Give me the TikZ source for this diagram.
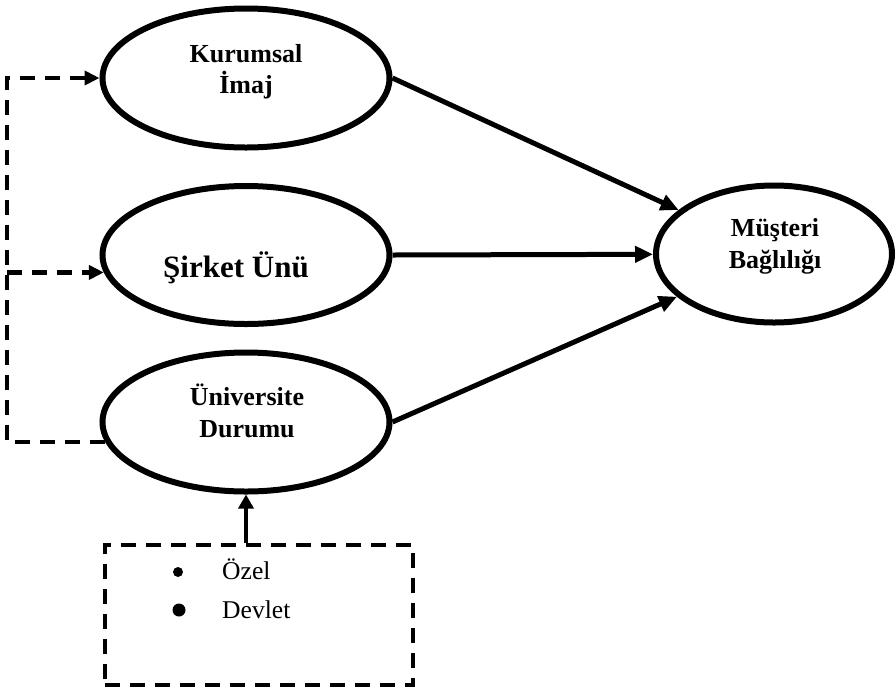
\documentclass[tikz,border=0pt]{standalone}
\usepackage{fontspec}
\setmainfont{Liberation Serif}
\usetikzlibrary{arrows.meta,shapes.geometric}
\begin{document}
\begin{tikzpicture}[x=1pt,y=-1pt,
  construct/.style={ellipse,draw,line width=6pt,inner sep=0pt,
    minimum width=287pt,minimum height=139pt},
  lbl/.style={font=\fontsize{26}{31.5}\selectfont\bfseries,align=center},
  item/.style={font=\fontsize{25.6}{30}\selectfont,anchor=base west,inner sep=0pt},
  dot/.style={circle,fill,inner sep=0pt},
  link/.style={line width=5pt,-{Triangle[length=18pt,width=16pt]}},
  dashpath/.style={line width=4.5pt,dash pattern=on 15pt off 10pt},
  dasharrow/.style={dashpath,-{Triangle[length=15pt,width=14pt]}},
]
\useasboundingbox (0,0) rectangle (896,689);

% constructs
\node[construct] (kur) at (246,78) {};
\node[construct,minimum height=138pt] (sir) at (246,255) {};
\node[construct] (uni) at (246,422) {};
\node[construct,minimum width=236pt,minimum height=137pt] (mus) at (774,254) {};

% construct labels
\node[lbl] (kurT) at (246,71.5) {Kurumsal\\İmaj};
\node[font=\fontsize{31}{36}\selectfont\bfseries,anchor=base] (sirT) at (236,277) {Şirket Ünü};
\node[lbl] (uniT) at (247,411) {Üniversite\\Durumu};
\node[lbl] (musT) at (775,246.5) {Müşteri\\Bağlılığı};

% moderator box with its two categories
\node[draw,dashpath,minimum width=308pt,minimum height=140pt,inner sep=0pt] (box) at (259,615) {};
\node[dot,minimum size=10pt] (d1) at (178,572) {};
\node[dot,minimum size=13pt] (d2) at (179,610) {};
\node[item] (ozel) at (222,579) {Özel};
\node[item] (devlet) at (222,618) {Devlet};

% paths into the outcome
\draw[link] (kur.east) -- (mus);
\draw[link] (sir.east) -- (mus);
\draw[link] (uni.east) -- (mus);

% dashed feedback from university status
\coordinate (bend) at (7,78);
\draw[dasharrow] (uni.188) -| (bend) -- (kur.west);
\draw[dasharrow] (bend |- sir.187) -- (sir.187);

% box feeds university status
\draw[line width=3.3pt,-{Triangle[length=14pt,width=15pt]}] (box.north -| uni.south) -- (uni.south);
\end{tikzpicture}
\end{document}
